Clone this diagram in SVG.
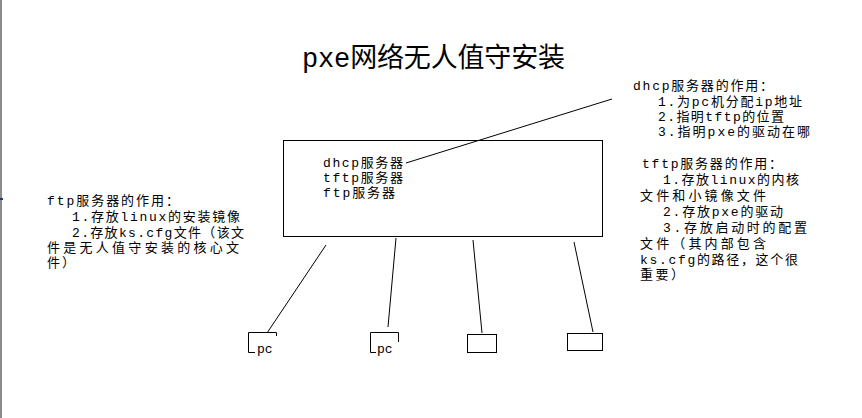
<svg xmlns="http://www.w3.org/2000/svg" width="862" height="418" viewBox="0 0 862 418">
<style>
text{font-family:"Liberation Mono","Noto Sans CJK SC",monospace;font-size:13px;fill:#000}
.title{font-size:27px}
.box{fill:#fff;stroke:#000;stroke-width:1}
.ln{stroke:#000;stroke-width:1;fill:none}
</style>
<rect width="862" height="418" fill="#fff"/>
<rect x="0" y="0" width="2" height="418" fill="#8c8c8c"/>
<rect x="0" y="198" width="3" height="2" fill="#1f3a6e"/>
<g id="title"><text class="title" x="302" y="67" textLength="263">pxe网络无人值守安装</text></g>
<g id="server">
<rect class="box" x="283.5" y="140.5" width="319" height="96"/>
<text x="323" y="167" textLength="80">dhcp服务器</text>
<text x="323" y="182" textLength="80">tftp服务器</text>
<text x="323" y="197" textLength="72">ftp服务器</text>
</g>
<g id="dhcp-note">
<text x="633" y="90" textLength="140">dhcp服务器的作用：</text>
<text x="658" y="106" textLength="144">1.为pc机分配ip地址</text>
<text x="658" y="121" textLength="126">2.指明tftp的位置</text>
<text x="658" y="136" textLength="152">3.指明pxe的驱动在哪</text>
</g>
<g id="tftp-note">
<text x="642" y="168" textLength="140">tftp服务器的作用：</text>
<text x="663" y="184" textLength="136">1.存放linux的内核</text>
<text x="640" y="200" textLength="126">文件和小镜像文件</text>
<text x="663" y="216" textLength="120">2.存放pxe的驱动</text>
<text x="663" y="232" textLength="144">3.存放启动时的配置</text>
<text x="640" y="248" textLength="126">文件（其内部包含</text>
<text x="640" y="264" textLength="158">ks.cfg的路径，这个很</text>
<text x="640" y="279" textLength="44">重要）</text>
</g>
<g id="ftp-note">
<text x="47" y="205" textLength="132">ftp服务器的作用：</text>
<text x="72" y="221" textLength="168">1.存放linux的安装镜像</text>
<text x="72" y="237" textLength="172">2.存放ks.cfg文件（该文</text>
<text x="47" y="252" textLength="192">件是无人值守安装的核心文</text>
<text x="47" y="267" textLength="28">件）</text>
</g>
<g id="pc1">
<path class="ln" d="M276.5,336 V332.5 H248.5 V352.5 H255"/>
<text x="257" y="353" font-size="13">pc</text>
</g>
<g id="pc2">
<path class="ln" d="M398.5,342 V332.5 H370.5 V352.5 H376"/>
<text x="377" y="353" font-size="13">pc</text>
</g>
<g id="pc3"><rect class="box" x="467.5" y="334.5" width="29" height="18"/></g>
<g id="pc4"><rect class="box" x="567.5" y="333.5" width="35" height="17"/></g>
<g id="connectors">
<line class="ln" x1="406" y1="163" x2="612" y2="99"/>
<line class="ln" x1="326" y1="245" x2="267" y2="333"/>
<line class="ln" x1="396" y1="238" x2="388" y2="327"/>
<line class="ln" x1="473" y1="240" x2="482" y2="333"/>
<line class="ln" x1="574" y1="242" x2="593" y2="332"/>
</g>
</svg>
